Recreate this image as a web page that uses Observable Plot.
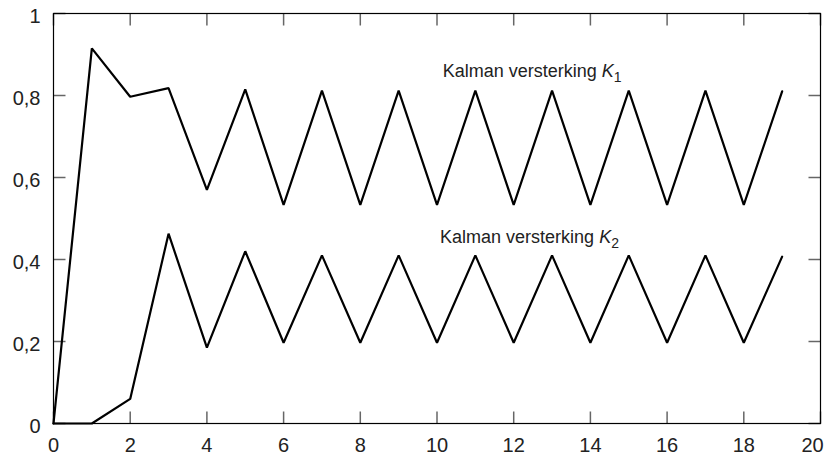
<!DOCTYPE html>
<html><head><meta charset="utf-8">
<script src="https://cdn.jsdelivr.net/npm/d3@7"></script>
<script src="https://cdn.jsdelivr.net/npm/@observablehq/plot@0.6"></script>
<style>body{margin:0;background:#fff}</style>
</head><body><div id="chart"></div>
<script>
const steps = [0,1,2,3,4,5,6,7,8,9,10,11,12,13,14,15,16,17,18,19];
const k1 = [0,0.915,0.797,0.818,0.57,0.815,0.533,0.812,0.533,0.812,0.533,0.812,0.533,0.812,0.533,0.812,0.533,0.812,0.533,0.81];
const k2 = [0,0,0.06,0.463,0.185,0.42,0.197,0.41,0.197,0.41,0.197,0.41,0.197,0.41,0.197,0.41,0.197,0.41,0.197,0.407];
const xTicks = [0,2,4,6,8,10,12,14,16,18,20];
const yTicks = [0,0.2,0.4,0.6,0.8,1];
const yTickLabels = ["0","0,2","0,4","0,6","0,8","1"];
const labels = [{x:10.15,y:0.86,t:"1"},{x:10.08,y:0.455,t:"2"}];

const d1 = steps.map((s,i)=>({x:s,y:k1[i]}));
const d2 = steps.map((s,i)=>({x:s,y:k2[i]}));
const W=827,H=457, mT=13, mB=34, mL=53, mR=7;
const innerH = H-mT-mB, innerW = W-mL-mR;
const xMax = 20, yMax = 1, tickPx = 12;
const ty = tickPx*yMax/innerH, tx = tickPx*xMax/innerW;
const xTickRows = xTicks.map(v=>({x:v}));
const yTickRows = yTicks.map(v=>({y:v}));
const font = "Liberation Sans, Arial, sans-serif";
const tickColor = "#666";
const plot = Plot.plot({
  width: W, height: H,
  marginTop: mT, marginBottom: mB, marginLeft: mL, marginRight: mR,
  style: {fontFamily: font, fontSize: "20px", background: "white"},
  x: {domain: [0,xMax], label: null},
  y: {domain: [0,yMax], label: null},
  marks: [
    Plot.link(xTickRows, {x1: "x", x2: "x", y1: () => 0, y2: () => ty, stroke: tickColor, strokeWidth: 1.5}),
    Plot.link(xTickRows, {x1: "x", x2: "x", y1: () => yMax-ty, y2: () => yMax, stroke: tickColor, strokeWidth: 1.5}),
    Plot.link(yTickRows, {y1: "y", y2: "y", x1: () => 0, x2: () => tx, stroke: tickColor, strokeWidth: 1.5}),
    Plot.link(yTickRows, {y1: "y", y2: "y", x1: () => xMax-tx, x2: () => xMax, stroke: tickColor, strokeWidth: 1.5}),
    Plot.axisX(xTicks.slice(0,-1), {tickSize: 0, tickPadding: 14, fontSize: 20, fill: "#222", label: null}),
    Plot.axisX(xTicks.slice(-1), {tickSize: 0, tickPadding: 14, fontSize: 20, fill: "#222", dx: -8, label: null}),
    Plot.axisY(yTicks, {tickSize: 0, tickPadding: 13, fontSize: 20, fill: "#222", dy: 3, label: null, tickFormat: d=>yTickLabels[yTicks.indexOf(d)]}),
    Plot.line(d1, {x:"x", y:"y", stroke:"black", strokeWidth:2.2, strokeLinejoin:"miter"}),
    Plot.line(d2, {x:"x", y:"y", stroke:"black", strokeWidth:2.2, strokeLinejoin:"miter"}),
    Plot.frame({stroke:"black", strokeWidth:1.2}),
    Plot.text(labels, {x:"x", y:"y", text: d=>"Kalman versterking K"+d.t, textAnchor:"start", fontSize:18, fill:"#222", className:"klabel"})
  ]
});
document.getElementById("chart").appendChild(plot);
d3.select(plot).selectAll("g.klabel text").each(function(){
  const t = this.textContent; const n = t.slice(-1);
  const sel = d3.select(this); sel.text("Kalman versterking ");
  sel.append("tspan").attr("font-style","italic").text("K");
  sel.append("tspan").attr("dy","0.35em").attr("font-size","14").text(n);
});
</script></body></html>
